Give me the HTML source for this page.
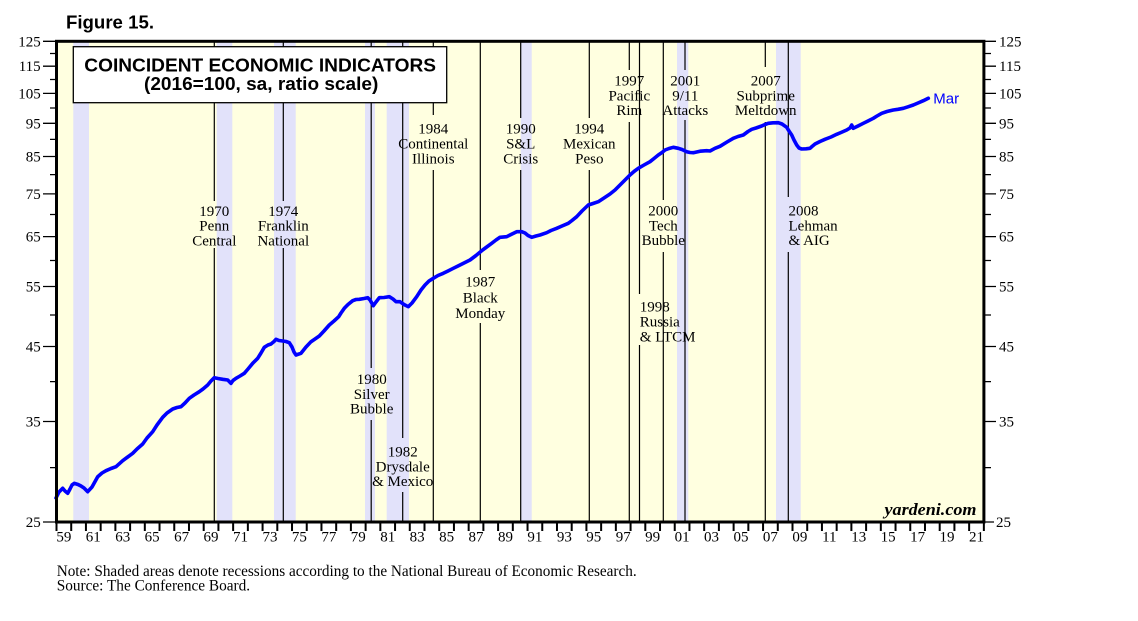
<!DOCTYPE html>
<html><head><meta charset="utf-8"><style>
html,body{margin:0;padding:0;background:#fff;}
svg{display:block;}
.s{font-family:"Liberation Serif",serif;font-size:15px;fill:#000;}
.b{font-family:"Liberation Sans",sans-serif;font-weight:bold;fill:#000;}
</style></head><body>
<svg width="1138" height="621" viewBox="0 0 1138 621" xmlns="http://www.w3.org/2000/svg">
<rect x="0" y="0" width="1138" height="621" fill="#fff"/>
<text class="b" x="66" y="28.5" font-size="18" textLength="88" lengthAdjust="spacingAndGlyphs">Figure 15.</text>
<rect x="56.5" y="41.3" width="927.4" height="480.7" fill="#ffffe0"/>
<g fill="#e2e2fa">
<rect x="73.3" y="41.3" width="15.7" height="480.7"/>
<rect x="216.7" y="41.3" width="15.6" height="480.7"/>
<rect x="274" y="41.3" width="21.7" height="480.7"/>
<rect x="365" y="41.3" width="10" height="480.7"/>
<rect x="386.7" y="41.3" width="22.3" height="480.7"/>
<rect x="520.7" y="41.3" width="11" height="480.7"/>
<rect x="677" y="41.3" width="11.3" height="480.7"/>
<rect x="776" y="41.3" width="24.7" height="480.7"/>
</g>
<path fill="none" stroke="#000" stroke-width="1.2" d="
M214.3 42V201M214.3 248V521
M283.3 42V201M283.3 248V521
M371.2 42V368M371.2 420V521
M402.7 42V438M402.7 492V521
M433.3 42V115M433.3 170V521
M480.3 42V270M480.3 323V521
M520.7 42V118M520.7 170V521
M589.3 42V118M589.3 170V521
M629.3 42V70M629.3 122V521
M639.5 42V294M639.5 345V521
M663.3 42V200M663.3 252V521
M685 42V70M685 120V521
M765.3 42V67M765.3 122V521
M788.3 42V197M788.3 252V521"/>
<polyline fill="none" stroke="#0000ff" stroke-width="3.6" stroke-linejoin="round" stroke-linecap="round" points="
56,498 59,492 62.7,488.3 65,491 67.7,493.3 70,489 72,485 74.3,483.3 78,484.5 81,486 84,488 87.7,491.7 92,487 97.7,476.7 102,473 106,470.7 111,468.5 116,466.7 122.7,460.7 127,457.5 132.7,453.3 137,449 142.7,444 147,438 152.7,431.7 157,425 162.7,417.3 167,413 172.7,409 177,407.5 181,406.7 185,403 189.3,398.3 194,395 199.3,391.7 203,389 207.7,385 211,381 214.3,377.7 218,378.5 222.7,379.3 227.7,380 231,383.3 233,380.5 236,378.3 240,376 244.3,373.3 248,369 252.7,363.3 257.7,358.3 261,353 264.3,347.3 268,345 271,344 274,341.5 276,339.3 279,340.5 282.7,341 286,341.5 289.3,342.7 292,347 294,352 296,355 301,353.3 306,347 311,341.7 315,339 319.3,336 324,331 329.3,325 334,321 338.7,316.7 341,313 344.3,308.3 348,304.5 352.7,300.7 356,299.5 359.3,299.3 364,298.5 367.7,297.7 370,300 373.3,305.7 376,302 379.3,297.7 384,297.5 389.3,296.7 393,299 396,301.7 400,301.7 404,304.5 408.3,306.7 412,303 416.7,296.7 421,290 425,285 429,281 433.3,278.3 438,275.5 443.3,273.3 448,271 453.3,268.3 458,266 463,263.5 470,260 476,255.5 481.7,250.7 486,247.5 491.7,243.3 496,240 500,237.3 506.7,236.7 511,234.5 516.7,231.7 521.7,231.7 525,233 528,235.5 531.7,237.3 536,236 540,235 546.7,232.7 551,230.5 556.7,228.3 562,226 568.3,223.3 572,220.5 576.7,216.7 582,211 588.3,205 593,203.5 598.3,201.7 604,198 610,194 615,190 620,185 625,180 630,175 634,171.5 638.3,168.3 644,165 650,161.7 654,158.5 658.3,155 662,152.5 665,150 669,148.5 673.3,147.3 678.3,148.3 682,149.5 686.7,151.7 690,152.5 693.3,152.7 700,151.2 706.7,150.7 710,151 715,148.3 720,146.3 727,142 733.3,138.3 738,136.5 743.3,135 748,131.5 751.7,129.3 756,128 761.7,126 765,124.5 768.3,123.3 773,122.8 778.3,122.7 782,124 786.7,127.3 789,131 791.7,135 794,140 796.7,145 799,148 801.7,149 806,148.8 810,148.3 812,146.5 815,144 820,141.5 825,139.3 831,137 836.7,134.3 841,132.5 846.7,130 850,128 851.7,125 853.3,128.3 858,126 863.3,123.3 868,121 873.3,118.3 877,116 881.7,113.3 887,111.5 893.3,110 898,109.3 903.3,108.3 908,106.8 913.3,105 918,103 923.3,100.7 928.3,98.3"/>
<text x="933.3" y="103.5" font-family="Liberation Sans, sans-serif" font-size="15" fill="#0000ff">Mar</text>
<g class="s" text-anchor="middle">
<text x="214.3" y="216">1970</text><text x="214.3" y="230.7">Penn</text><text x="214.3" y="245.3">Central</text>
<text x="283.3" y="216">1974</text><text x="283.3" y="230.7">Franklin</text><text x="283.3" y="245.3">National</text>
<text x="371.7" y="384">1980</text><text x="371.7" y="399">Silver</text><text x="371.7" y="413.5">Bubble</text>
<text x="402.7" y="456.7">1982</text><text x="402.7" y="471.5">Drysdale</text><text x="402.7" y="486">&amp; Mexico</text>
<text x="433.3" y="133.3">1984</text><text x="433.3" y="148.3">Continental</text><text x="433.3" y="163.3">Illinois</text>
<text x="480.3" y="286.7">1987</text><text x="480.3" y="302.3">Black</text><text x="480.3" y="318">Monday</text>
<text x="520.7" y="133.3">1990</text><text x="520.7" y="148.3">S&amp;L</text><text x="520.7" y="163.3">Crisis</text>
<text x="589.3" y="133.3">1994</text><text x="589.3" y="148.3">Mexican</text><text x="589.3" y="163.3">Peso</text>
<text x="629.3" y="85.7">1997</text><text x="629.3" y="100.3">Pacific</text><text x="629.3" y="115">Rim</text>
<text x="685.3" y="85.7">2001</text><text x="685.3" y="100.3">9/11</text><text x="685.3" y="115">Attacks</text>
<text x="765.7" y="85.7">2007</text><text x="765.7" y="100.3">Subprime</text><text x="765.7" y="115">Meltdown</text>
<text x="663.3" y="215.7">2000</text><text x="663.3" y="230.3">Tech</text><text x="663.3" y="245">Bubble</text>
</g>
<g class="s">
<text x="639.8" y="311.7">1998</text><text x="639.8" y="326.7">Russia</text><text x="639.8" y="341.7">&amp; LTCM</text>
<text x="788.5" y="215.7">2008</text><text x="788.5" y="230.3">Lehman</text><text x="788.5" y="245">&amp; AIG</text>
</g>
<text x="884.5" y="515" font-family="Liberation Serif, serif" font-style="italic" font-weight="bold" font-size="17" textLength="92" lengthAdjust="spacingAndGlyphs">yardeni.com</text>
<rect x="73.3" y="46.7" width="373.4" height="56" fill="#fff" stroke="#000" stroke-width="1.3"/>
<text class="b" x="84.3" y="71.7" font-size="18.5" textLength="351.7" lengthAdjust="spacingAndGlyphs">COINCIDENT ECONOMIC INDICATORS</text>
<text class="b" x="144" y="90.2" font-size="18.5" textLength="234.3" lengthAdjust="spacingAndGlyphs">(2016=100, sa, ratio scale)</text>
<rect x="56.5" y="41.3" width="927.4" height="480.7" fill="none" stroke="#000" stroke-width="3"/>
<path fill="none" stroke="#000" stroke-width="1.3" d="
M43 41.3H56M43 66.2H56M43 93.4H56M43 123.3H56M43 156.5H56M43 193.9H56M43 236.6H56M43 286.5H56M43 346.5H56M43 421.5H56M43 522H56
M50 53.5H56M50 79.5H56M50 108H56M50 139.4H56M50 174.6H56M50 214.5H56M50 260.5H56M50 315H56M50 381.6H56M50 467.6H56
M985 41.3H996M985 66.2H996M985 93.4H996M985 123.3H996M985 156.5H996M985 193.9H996M985 236.6H996M985 286.5H996M985 346.5H996M985 421.5H996M985 522H994
M985 53.5H991M985 79.5H991M985 108H991M985 139.4H991M985 174.6H991M985 214.5H991M985 260.5H991M985 315H991M985 381.6H991M985 467.6H991"/>
<g class="s" text-anchor="end">
<text x="40.7" y="46.3">125</text><text x="40.7" y="71.2">115</text><text x="40.7" y="98.4">105</text><text x="40.7" y="128.3">95</text><text x="40.7" y="161.5">85</text><text x="40.7" y="198.9">75</text><text x="40.7" y="241.6">65</text><text x="40.7" y="291.5">55</text><text x="40.7" y="351.5">45</text><text x="40.7" y="426.5">35</text><text x="40.7" y="527">25</text>
</g>
<g class="s">
<text x="999" y="46.3">125</text><text x="999" y="71.2">115</text><text x="999" y="98.4">105</text><text x="999" y="128.3">95</text><text x="999" y="161.5">85</text><text x="999" y="198.9">75</text><text x="999" y="241.6">65</text><text x="999" y="291.5">55</text><text x="999" y="351.5">45</text><text x="999" y="426.5">35</text><text x="996" y="527">25</text>
</g>
<path fill="none" stroke="#000" stroke-width="2" d="M56.5 522v9M71.22 522v9M85.94 522v9M100.66 522v9M115.38 522v9M130.1 522v9M144.82 522v9M159.54 522v9M174.26 522v9M188.98 522v9M203.7 522v9M218.42 522v9M233.14 522v9M247.86 522v9M262.58 522v9M277.3 522v9M292.02 522v9M306.74 522v9M321.46 522v9M336.18 522v9M350.9 522v9M365.62 522v9M380.34 522v9M395.06 522v9M409.78 522v9M424.5 522v9M439.22 522v9M453.94 522v9M468.66 522v9M483.38 522v9M498.1 522v9M512.82 522v9M527.54 522v9M542.26 522v9M556.98 522v9M571.7 522v9M586.42 522v9M601.14 522v9M615.86 522v9M630.58 522v9M645.3 522v9M660.02 522v9M674.74 522v9M689.46 522v9M704.18 522v9M718.9 522v9M733.62 522v9M748.34 522v9M763.06 522v9M777.78 522v9M792.5 522v9M807.22 522v9M821.94 522v9M836.66 522v9M851.38 522v9M866.1 522v9M880.82 522v9M895.54 522v9M910.26 522v9M924.98 522v9M939.7 522v9M954.42 522v9M969.14 522v9M983.86 522v9"/>
<g class="s" text-anchor="middle">
<text x="63.86" y="541.5">59</text><text x="93.3" y="541.5">61</text><text x="122.74" y="541.5">63</text><text x="152.18" y="541.5">65</text><text x="181.62" y="541.5">67</text><text x="211.06" y="541.5">69</text><text x="240.5" y="541.5">71</text><text x="269.94" y="541.5">73</text><text x="299.38" y="541.5">75</text><text x="328.82" y="541.5">77</text><text x="358.26" y="541.5">79</text><text x="387.7" y="541.5">81</text><text x="417.14" y="541.5">83</text><text x="446.58" y="541.5">85</text><text x="476.02" y="541.5">87</text><text x="505.46" y="541.5">89</text><text x="534.9" y="541.5">91</text><text x="564.34" y="541.5">93</text><text x="593.78" y="541.5">95</text><text x="623.22" y="541.5">97</text><text x="652.66" y="541.5">99</text><text x="682.1" y="541.5">01</text><text x="711.54" y="541.5">03</text><text x="740.98" y="541.5">05</text><text x="770.42" y="541.5">07</text><text x="799.86" y="541.5">09</text><text x="829.3" y="541.5">11</text><text x="858.74" y="541.5">13</text><text x="888.18" y="541.5">15</text><text x="917.62" y="541.5">17</text><text x="947.06" y="541.5">19</text><text x="976.5" y="541.5">21</text>
</g>
<text x="56.7" y="576" font-family="Liberation Serif, serif" font-size="15.3" fill="#000" textLength="580" lengthAdjust="spacingAndGlyphs">Note: Shaded areas denote recessions according to the National Bureau of Economic Research.</text>
<text x="56.7" y="590.5" font-family="Liberation Serif, serif" font-size="15.3" fill="#000">Source: The Conference Board.</text>
</svg>
</body></html>
